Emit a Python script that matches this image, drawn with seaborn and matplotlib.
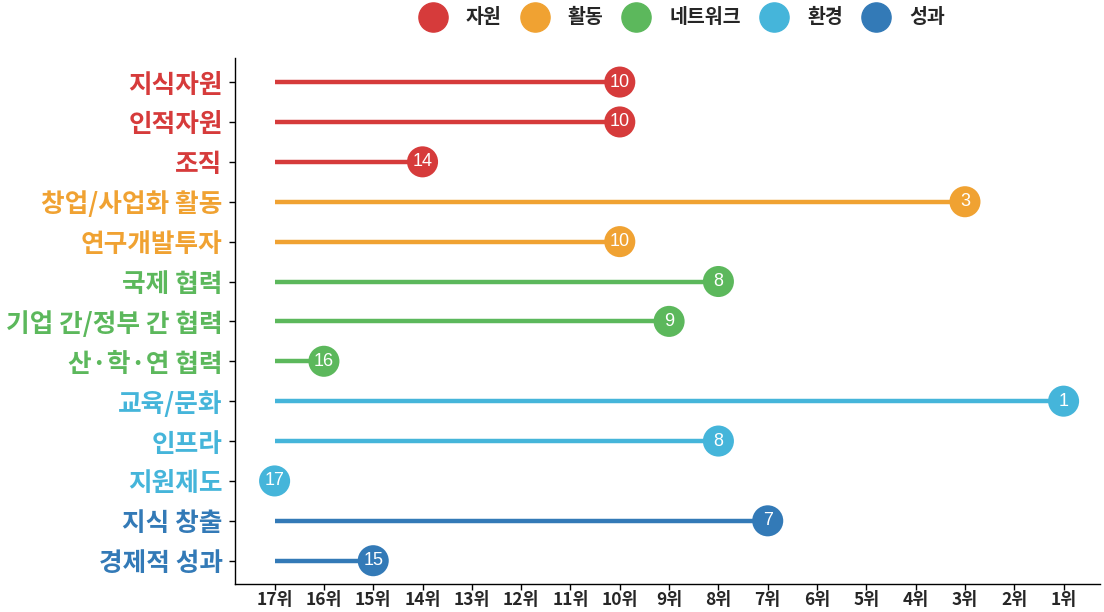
import numpy as np
import pandas as pd
import matplotlib.pyplot as plt
import seaborn as sns

items = ['지식자원', '인적자원', '조직', '창업/사업화 활동', '연구개발투자',
         '국제 협력', '기업 간/정부 간 협력', '산·학·연 협력',
         '교육/문화', '인프라', '지원제도', '지식 창출', '경제적 성과']
ranks = [10, 10, 14, 3, 10, 8, 9, 16, 1, 8, 17, 7, 15]
groups = ['자원', '자원', '자원', '활동', '활동', '네트워크', '네트워크', '네트워크',
          '환경', '환경', '환경', '성과', '성과']
group_order = ['자원', '활동', '네트워크', '환경', '성과']
palette = {'자원': '#d63b3b', '활동': '#f0a232', '네트워크': '#5cb85c',
           '환경': '#45b5da', '성과': '#337ab7'}

df = pd.DataFrame({'item': items, 'rank': ranks, 'group': groups})
df['y'] = np.arange(len(df))[::-1]

sns.set_style('white')
plt.rcParams['font.family'] = ['Noto Sans CJK KR', 'DejaVu Sans']

fig = plt.figure(figsize=(11.04, 6.12), dpi=100)
ax = fig.add_axes([0.213, 0.046, 0.783, 0.859])

for _, r in df.iterrows():
    ax.hlines(r['y'], 17, r['rank'], color=palette[r['group']], lw=3.2, zorder=1)

sns.scatterplot(data=df, x='rank', y='y', hue='group', hue_order=group_order,
                palette=palette, s=500, edgecolor='none', ax=ax, zorder=2, legend=False)

for _, r in df.iterrows():
    ax.text(r['rank'], r['y'], str(r['rank']), color='white', ha='center', va='center',
            fontsize=13, family=['Liberation Sans', 'DejaVu Sans'], zorder=3)

ax.set_xlim(17.8, 0.27)
ax.set_ylim(-0.58, len(df) - 1 + 0.6)
ax.set_xticks(range(17, 0, -1))
ax.set_xticklabels([f'{k}위' for k in range(17, 0, -1)], fontsize=12.5, fontweight='bold')
ax.set_yticks(df['y'])
ax.set_yticklabels(df['item'], fontsize=18.5, fontweight='bold')
for lbl, g in zip(ax.get_yticklabels(), df['group']):
    lbl.set_color(palette[g])
ax.tick_params(axis='both', length=4, width=1, color='black', bottom=True, left=True)
ax.tick_params(axis='x', pad=1)
ax.tick_params(axis='y', pad=5)
ax.set_xlabel('')
ax.set_ylabel('')
for s in ['top', 'right']:
    ax.spines[s].set_visible(False)
for s in ['left', 'bottom']:
    ax.spines[s].set_color('black')
    ax.spines[s].set_linewidth(1)

handles = [plt.Line2D([], [], marker='o', ls='', markersize=21, color=palette[g]) for g in group_order]
fig.legend(handles, group_order, loc='upper center', bbox_to_anchor=(0.615, 1.015), ncol=5,
           frameon=False, prop={'size': 14, 'weight': 'bold'}, handletextpad=0.7, columnspacing=0.7)

fig.savefig('out.png', dpi=100)
